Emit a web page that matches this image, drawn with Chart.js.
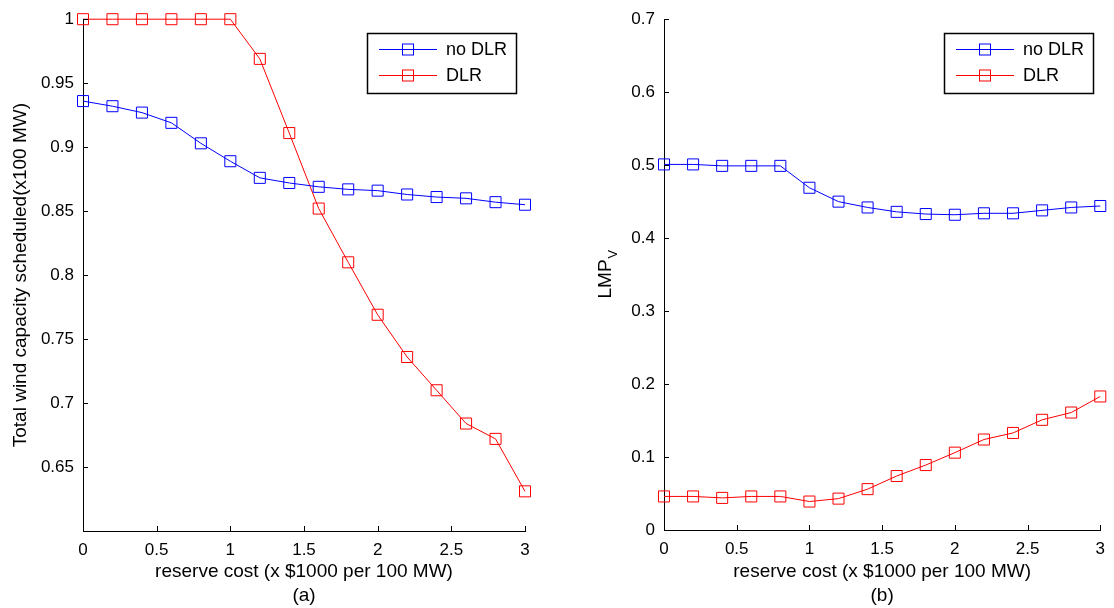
<!DOCTYPE html>
<html>
<head>
<meta charset="utf-8">
<script src="https://cdn.jsdelivr.net/npm/chart.js@4.4.1/dist/chart.umd.min.js"></script>
<style>
html, body { margin: 0; padding: 0; background: #fff; }
.panel { position: absolute; top: 0; width: 557px; height: 608px; }
</style>
</head>
<body>
<div class="panel" style="left:0"><canvas id="chart-a"></canvas></div>
<div class="panel" style="left:557px"><canvas id="chart-b"></canvas></div>
<script>
const reserveCost = [0, 0.2, 0.4, 0.6, 0.8, 1.0, 1.2, 1.4, 1.6, 1.8, 2.0, 2.2, 2.4, 2.6, 2.8, 3.0];
const seriesNames = ['no DLR', 'DLR'];
const windNoDLR = [0.936, 0.932, 0.927, 0.919, 0.903, 0.889, 0.876, 0.872, 0.869, 0.867, 0.866, 0.863, 0.861, 0.860, 0.857, 0.855];
const windDLR = [1.0, 1.0, 1.0, 1.0, 1.0, 1.0, 0.969, 0.911, 0.852, 0.810, 0.769, 0.736, 0.710, 0.684, 0.672, 0.631];
const lmpNoDLR = [0.501, 0.501, 0.499, 0.499, 0.499, 0.469, 0.450, 0.442, 0.436, 0.433, 0.432, 0.434, 0.434, 0.438, 0.442, 0.444];
const lmpDLR = [0.046, 0.046, 0.044, 0.046, 0.046, 0.039, 0.043, 0.056, 0.074, 0.089, 0.106, 0.124, 0.133, 0.151, 0.161, 0.183];

const FONT = "'Liberation Sans', Arial, sans-serif";
Chart.defaults.font.family = FONT;
Chart.defaults.font.size = 17;
Chart.defaults.color = '#000';

const fmt = v => String(+v.toFixed(2));

// MATLAB-style ticks pointing into the plot
const inwardTicks = {
    id: 'inwardTicks',
    afterDraw(chart) {
        const ctx = chart.ctx;
        ctx.save();
        ctx.strokeStyle = '#000';
        ctx.lineWidth = 1;
        const xs = chart.scales.x, ys = chart.scales.y;
        xs.ticks.forEach((t, i) => {
            const px = Math.round(xs.getPixelForTick(i)) + 0.5;
            ctx.beginPath();
            ctx.moveTo(px, xs.top);
            ctx.lineTo(px, xs.top - 5);
            ctx.stroke();
        });
        ys.ticks.forEach((t, i) => {
            const py = Math.round(ys.getPixelForTick(i)) + 0.5;
            ctx.beginPath();
            ctx.moveTo(ys.right, py);
            ctx.lineTo(ys.right + 5, py);
            ctx.stroke();
        });
        ctx.restore();
    }
};

// boxed legend like the matlab one
const boxLegend = {
    id: 'boxLegend',
    afterDraw(chart, args, opts) {
        const ctx = chart.ctx;
        const w = 149, h = 60;
        const left = Math.round(chart.chartArea.right - opts.right - w);
        const top = Math.round(chart.chartArea.top + 14);
        ctx.save();
        ctx.fillStyle = '#fff';
        ctx.fillRect(left, top, w, h);
        ctx.strokeStyle = '#000';
        ctx.lineWidth = 1.5;
        ctx.strokeRect(left + 0.5, top + 0.5, w, h);
        chart.data.datasets.forEach((ds, i) => {
            const y = Math.round(top + 15.7 + i * 26.6) + 0.5;
            ctx.strokeStyle = ds.borderColor;
            ctx.lineWidth = 1;
            ctx.beginPath();
            ctx.moveTo(left + 12, y);
            ctx.lineTo(left + 70, y);
            ctx.stroke();
            ctx.strokeRect(left + 41 - 5.5, y - 5.5, 11, 11);
            ctx.fillStyle = '#000';
            ctx.font = '18px ' + FONT;
            ctx.textBaseline = 'middle';
            ctx.fillText(ds.label, left + 79, y + 1);
        });
        ctx.restore();
    }
};

// LMP with subscript V
const lmpTitle = {
    id: 'lmpTitle',
    afterDraw(chart, args, opts) {
        if (!opts.show) return;
        const ctx = chart.ctx;
        const a = chart.chartArea;
        ctx.save();
        ctx.translate(49, (a.top + a.bottom) / 2);
        ctx.rotate(-Math.PI / 2);
        ctx.fillStyle = '#000';
        ctx.textBaseline = 'middle';
        ctx.font = '19px ' + FONT;
        const w1 = ctx.measureText('LMP').width;
        ctx.font = '13px ' + FONT;
        const w2 = ctx.measureText('V').width;
        const start = -(w1 + w2) / 2;
        ctx.font = '19px ' + FONT;
        ctx.fillText('LMP', start, 0);
        ctx.font = '13px ' + FONT;
        ctx.fillText('V', start + w1 + 1, 7);
        ctx.restore();
    }
};

function makeChart(id, noDLR, withDLR, yOpts, pad, yWidth, xHeight, legendRight, yTitle, label) {
    const ctx = document.getElementById(id).getContext('2d');
    return new Chart(ctx, {
        type: 'line',
        data: {
            datasets: [
                { label: seriesNames[0], data: reserveCost.map((x, i) => ({ x: x, y: noDLR[i] })), borderColor: '#0000ff' },
                { label: seriesNames[1], data: reserveCost.map((x, i) => ({ x: x, y: withDLR[i] })), borderColor: '#ff0000' }
            ].map(d => Object.assign(d, {
                backgroundColor: 'rgba(0,0,0,0)',
                borderWidth: 1,
                pointStyle: 'rect',
                pointRadius: 7.8,
                pointBorderWidth: 1,
                pointBackgroundColor: 'rgba(0,0,0,0)',
                tension: 0,
                clip: false
            }))
        },
        options: {
            responsive: true,
            maintainAspectRatio: false,
            animation: false,
            layout: { padding: pad },
            plugins: {
                legend: { display: false },
                tooltip: { enabled: false },
                boxLegend: { right: legendRight },
                lmpTitle: { show: !yTitle }
            },
            scales: {
                x: {
                    type: 'linear', min: 0, max: 3,
                    grid: { drawOnChartArea: false, drawTicks: false },
                    border: { display: true, color: '#000', width: 1 },
                    ticks: { stepSize: 0.5, padding: 9, maxRotation: 0, autoSkip: false, callback: fmt },
                    title: { display: true, text: ['reserve cost (x $1000 per 100 MW)', label], font: { size: 19, lineHeight: '24px' }, padding: { top: 0, bottom: 0 } },
                    afterFit: s => { s.height = xHeight; }
                },
                y: Object.assign({
                    grid: { drawOnChartArea: false, drawTicks: false },
                    border: { display: true, color: '#000', width: 1 },
                    title: { display: !!yTitle, text: yTitle || '', font: { size: 19 }, padding: { top: 9, bottom: 0 } },
                    afterFit: s => { s.width = yWidth; }
                }, yOpts)
            }
        },
        plugins: [inwardTicks, boxLegend, lmpTitle]
    });
}

makeChart('chart-a', windNoDLR, windDLR,
    { min: 0.6, max: 1.0, ticks: { stepSize: 0.05, padding: 9, autoSkip: false, callback: v => (v < 0.62 ? '' : fmt(v)) } },
    { top: 17, right: 32, bottom: 0, left: 0 }, 83, 77, 9,
    'Total wind capacity scheduled(x100 MW)', '(a)');

makeChart('chart-b', lmpNoDLR, lmpDLR,
    { min: 0, max: 0.7, ticks: { stepSize: 0.1, padding: 9, autoSkip: false, callback: fmt } },
    { top: 17, right: 10, bottom: 0, left: 0 }, 107, 78, 7,
    null, '(b)');
</script>
</body>
</html>
